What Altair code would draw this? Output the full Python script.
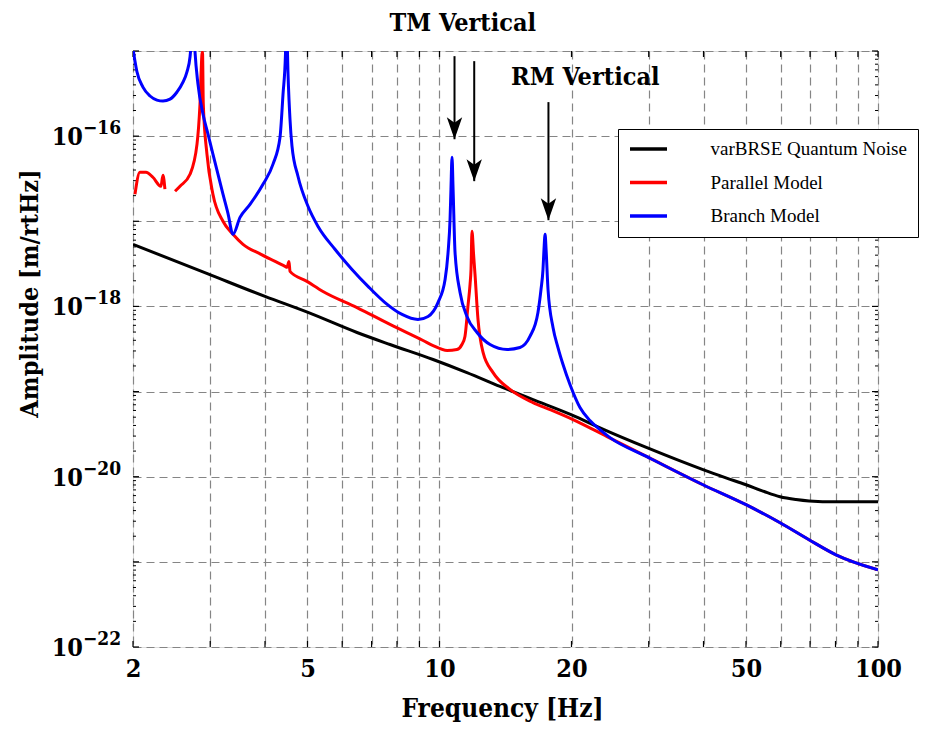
import altair as alt
import pandas as pd

# ---------------- data ----------------
series_names = ["varBRSE Quantum Noise", "Parallel Model", "Branch Model"]
series_colors = ["#000000", "#ff0000", "#0000ff"]

freq_quantum = [2.0, 2.965, 4.0, 5.013, 6.484, 7.712, 9.668, 11.55, 13.74, 16.34,
                19.95, 23.72, 29.72, 39.89, 45.0, 50.0, 55.0, 59.8, 65.0, 69.6, 80.2, 100.0]
amp_quantum = [5.36e-18, 2.41e-18, 1.31e-18, 8.5e-19, 4.94e-19, 3.57e-19, 2.38e-19,
               1.67e-19, 1.15e-19, 8.05e-20, 5.36e-20, 3.57e-20, 2.19e-20, 1.21e-20,
               9.7e-21, 8.05e-21, 6.7e-21, 5.82e-21, 5.4e-21, 5.2e-21, 5.08e-21, 5.08e-21]

# Parallel model, first short piece (low-frequency wiggle)
freq_parallel_a = [2.021, 2.074, 2.141, 2.220, 2.316, 2.341, 2.365]
amp_parallel_a = [2.08e-17, 3.77e-17, 3.77e-17, 3.29e-17, 2.58e-17, 3.48e-17, 2.38e-17]

# Parallel model, main piece
freq_parallel_b = [2.494, 2.560, 2.698, 2.799, 2.843, 2.873, 2.881, 2.893, 2.949, 3.043,
                   3.208, 3.381, 3.564, 3.917, 4.443, 4.49, 4.537, 4.561, 4.986, 5.424,
                   6.484, 7.712, 9.174, 9.668, 10.41, 10.96, 11.25, 11.43, 11.61, 11.74,
                   11.80, 11.86, 11.96, 12.05, 12.24, 12.57, 13.25, 14.48, 16.34, 17.87,
                   20.16, 24.10, 29.72, 39.89, 50.0, 59.8, 69.6, 80.2, 100.0]
amp_parallel_b = [2.25e-17, 2.58e-17, 3.57e-17, 8.05e-17, 2.38e-16, 9.2e-16, 9.7e-16, 2.38e-16,
                  6.14e-17, 2.08e-17, 1.0e-17, 7.03e-18, 5.36e-18, 4.09e-18, 2.96e-18, 2.88e-18,
                  3.38e-18, 2.58e-18, 1.97e-18, 1.5e-18, 9.7e-19, 6.14e-19, 3.98e-19, 3.47e-19,
                  3.04e-19, 3.12e-19, 3.57e-19, 4.44e-19, 1.0e-18, 1.82e-18, 2.72e-18, 7.63e-18,
                  4.09e-18, 2.38e-18, 7.03e-19, 2.88e-19, 1.67e-19, 1.06e-19, 7.43e-20, 6.14e-20,
                  4.69e-20, 2.96e-20, 1.72e-20, 8.05e-21, 4.69e-21, 2.88e-21, 1.82e-21, 1.21e-21,
                  8.05e-22]

freq_branch = [2.0, 2.021, 2.042, 2.107, 2.187, 2.268, 2.341, 2.429, 2.52, 2.60, 2.655, 2.698,
               2.706, 2.735, 2.769, 2.813, 2.888, 2.965, 3.043, 3.208, 3.293, 3.381, 3.508,
               3.697, 3.958, 4.172, 4.328, 4.397, 4.454, 4.478, 4.502, 4.561, 4.609, 4.756,
               5.013, 5.285, 5.776, 6.316, 6.871, 7.512, 8.215, 8.93, 9.417, 9.92, 10.30,
               10.46, 10.57, 10.62, 10.68, 10.74, 10.85, 11.14, 11.55, 12.18, 13.04, 14.26,
               15.26, 16.08, 16.77, 17.04, 17.22, 17.31, 17.41, 17.50, 17.68, 18.15, 18.63,
               19.13, 19.84, 20.91, 22.03, 23.22, 24.48, 29.72, 39.89, 50.0, 59.8, 69.6,
               80.2, 100.0]
amp_branch = [1.06e-15, 7.6e-16, 5.7e-16, 3.77e-16, 2.96e-16, 2.65e-16, 2.58e-16, 2.72e-16,
              3.3e-16, 4.3e-16, 5.7e-16, 8.5e-16, 1.0e-15, 4e-15, 1.0e-15, 4.09e-16, 1.82e-16,
              1.06e-16, 6.14e-17, 2.08e-17, 1.24e-17, 7.03e-18, 1.11e-17, 1.58e-17, 2.72e-17,
              4.69e-17, 9.7e-17, 3.12e-16, 9.2e-16, 4e-15, 9.2e-16, 1.58e-16, 7.63e-17,
              3.38e-17, 1.5e-17, 8.7e-18, 4.69e-18, 2.72e-18, 1.72e-18, 1.11e-18, 8.05e-19,
              7.03e-19, 7.63e-19, 1.11e-18, 2.08e-18, 4.32e-18, 1.06e-17, 2.38e-17, 5.66e-17,
              2.38e-17, 4.32e-18, 1.46e-18, 7.63e-19, 4.94e-19, 3.57e-19, 3.12e-19, 3.29e-19,
              4.44e-19, 8.5e-19, 1.58e-18, 2.72e-18, 4.69e-18, 7.03e-18, 4.69e-18, 1.58e-18,
              5.66e-19, 3.29e-19, 2.08e-19, 1.21e-19, 6.49e-20, 4.56e-20, 3.57e-20, 2.88e-20,
              1.72e-20, 8.05e-21, 4.69e-21, 2.88e-21, 1.82e-21, 1.21e-21, 8.05e-22]

x_grid = [2, 3, 4, 5, 6, 7, 8, 9, 10, 20, 30, 40, 50, 60, 70, 80, 90, 100]
x_labels = [2, 5, 10, 20, 50, 100]
y_grid = [1e-22, 1e-21, 1e-20, 1e-19, 1e-18, 1e-17, 1e-16, 1e-15]
y_label_values = [1e-16, 1e-18, 1e-20, 1e-22]
y_label_base = ["10", "10", "10", "10"]
y_label_exps = ["\u221216", "\u221218", "\u221220", "\u221222"]

arrow_freq = [10.82, 12.0, 17.72]
arrow_top = [8.7e-16, 7.6e-16, 2.51e-16]
arrow_tip = [9.2e-17, 2.96e-17, 1.03e-17]

note_text = ["TM Vertical", "RM Vertical"]
note_freq = [11.3, 21.5]
note_amp = [2.15e-15, 5.0e-16]

# ---------------- tables ----------------
def table(series, seg, fs, amps):
    return pd.DataFrame({"series": series, "seg": seg, "f": fs, "A": amps})

df_q = table(series_names[0], "q", freq_quantum, amp_quantum)
df_p = pd.concat([table(series_names[1], "p1", freq_parallel_a, amp_parallel_a),
                  table(series_names[1], "p2", freq_parallel_b, amp_parallel_b)])
df_b = table(series_names[2], "b", freq_branch, amp_branch)

df_arrow = pd.DataFrame({"f": arrow_freq, "top": arrow_top, "tip": arrow_tip})
df_note = pd.DataFrame({"text": note_text, "f": note_freq, "A": note_amp})
df_ylab = pd.DataFrame({"v": y_label_values, "base": y_label_base, "exp": y_label_exps})

y_major = pd.DataFrame({"v": y_grid})
y_minor = pd.DataFrame({"v": [m * 10.0 ** e for e in range(-22, -15) for m in range(2, 10)]})
x_ticks = pd.DataFrame({"f": x_grid})

W, H = 745, 596
BOLD = "DejaVu Serif Condensed, DejaVu Serif, serif"

xs = alt.Scale(type="log", domain=[2, 100], nice=False)
ys = alt.Scale(type="log", domain=[1e-22, 1e-15], nice=False)
cs = alt.Scale(domain=series_names, range=series_colors)

lab_list = ",".join(str(v) for v in x_labels)
x_axis = alt.Axis(values=x_grid, grid=True, gridDash=[8, 5], gridColor="#858585", gridWidth=1.2,
                  ticks=False, domain=False, labelFlush=False, labelOverlap=False,
                  labelExpr=f"indexof([{lab_list}], datum.value) >= 0 ? format(datum.value, 'd') : ''",
                  labelFont=BOLD, labelFontSize=25, labelFontWeight="bold", labelColor="black",
                  labelPadding=9,
                  title="Frequency [Hz]", titleFont=BOLD, titleFontSize=26, titleFontWeight="bold",
                  titleColor="black", titleX=369, titleY=69, titleAlign="center",
                  titleBaseline="alphabetic")
y_axis = alt.Axis(values=y_grid, grid=True, gridDash=[8, 5], gridColor="#858585", gridWidth=1.2,
                  ticks=False, domain=False, labels=False,
                  title="Amplitude [m/rtHz]", titleFont=BOLD, titleFontSize=25, titleFontWeight="bold",
                  titleColor="black", titleAngle=270, titleX=-96, titleY=242, titleAlign="center",
                  titleBaseline="alphabetic")
legend = alt.Legend(title=None, orient="none", legendX=485, legendY=78,
                    fillColor="white", strokeColor="black", padding=10.5,
                    symbolType="M-4,0H14.5", symbolSize=16, symbolStrokeWidth=3.5,
                    labelFont="Liberation Serif", labelFontSize=19, labelColor="black",
                    labelOffset=63, rowPadding=13.5, labelLimit=400)

def line_layer(df, width=3):
    return alt.Chart(df).mark_line(clip=True, strokeWidth=width, interpolate="monotone").encode(
        x=alt.X("f:Q", scale=xs, axis=x_axis),
        y=alt.Y("A:Q", scale=ys, axis=y_axis),
        color=alt.Color("series:N", scale=cs, legend=legend),
        detail="seg:N",
    )

lines = [line_layer(df_q), line_layer(df_p), line_layer(df_b)]

shaft = alt.Chart(df_arrow).mark_rule(color="black", strokeWidth=2).encode(
    x=alt.X("f:Q", scale=xs), y=alt.Y("top:Q", scale=ys), y2="tip:Q")
head = alt.Chart(df_arrow).mark_point(
    shape="M0,0 L-0.7,-2 L0,-1.5 L0.7,-2 Z", filled=True, size=484, color="black",
    opacity=1, strokeWidth=0).encode(x=alt.X("f:Q", scale=xs), y=alt.Y("tip:Q", scale=ys))

notes = alt.Chart(df_note).mark_text(font=BOLD, fontSize=25, fontWeight="bold", color="black",
                                     align="center", baseline="middle").encode(
    x=alt.X("f:Q", scale=xs), y=alt.Y("A:Q", scale=ys), text="text:N")

ylab_base = alt.Chart(df_ylab).mark_text(font=BOLD, fontSize=25, fontWeight="bold", color="black",
                                         align="right", baseline="alphabetic", dy=9).encode(
    y=alt.Y("v:Q", scale=ys), x=alt.value(-50), text="base:N")
ylab_exp = alt.Chart(df_ylab).mark_text(font=BOLD, fontSize=19, fontWeight="bold", color="black",
                                        align="left", baseline="alphabetic", dy=-2).encode(
    y=alt.Y("v:Q", scale=ys), x=alt.value(-50), text="exp:N")

tick_col = "black"
left_major = alt.Chart(y_major).mark_rule(color=tick_col, strokeWidth=1.2).encode(
    y=alt.Y("v:Q", scale=ys), x=alt.value(0), x2=alt.value(6))
left_minor = alt.Chart(y_minor).mark_rule(color=tick_col, strokeWidth=1).encode(
    y=alt.Y("v:Q", scale=ys), x=alt.value(0), x2=alt.value(3))
right_major = alt.Chart(y_major).mark_rule(color=tick_col, strokeWidth=1.2).encode(
    y=alt.Y("v:Q", scale=ys), x=alt.value(W), x2=alt.value(W - 6))
right_minor = alt.Chart(y_minor).mark_rule(color=tick_col, strokeWidth=1).encode(
    y=alt.Y("v:Q", scale=ys), x=alt.value(W), x2=alt.value(W - 3))
bottom_ticks = alt.Chart(x_ticks).mark_rule(color=tick_col, strokeWidth=1.2).encode(
    x=alt.X("f:Q", scale=xs), y=alt.value(H), y2=alt.value(H - 6))
top_ticks = alt.Chart(x_ticks).mark_rule(color=tick_col, strokeWidth=1.2).encode(
    x=alt.X("f:Q", scale=xs), y=alt.value(0), y2=alt.value(6))

chart = alt.layer(
    left_major, left_minor, right_major, right_minor, bottom_ticks, top_ticks,
    *lines, shaft, head, notes, ylab_base, ylab_exp,
).properties(
    width=W, height=H,
    autosize=alt.AutoSizeParams(type="none"),
    padding={"left": 125, "top": 43, "right": 42, "bottom": 78},
).configure_view(stroke="black", strokeWidth=2).configure(background="white")

chart.save("out.html", embed_options={"renderer": "svg", "actions": False})
